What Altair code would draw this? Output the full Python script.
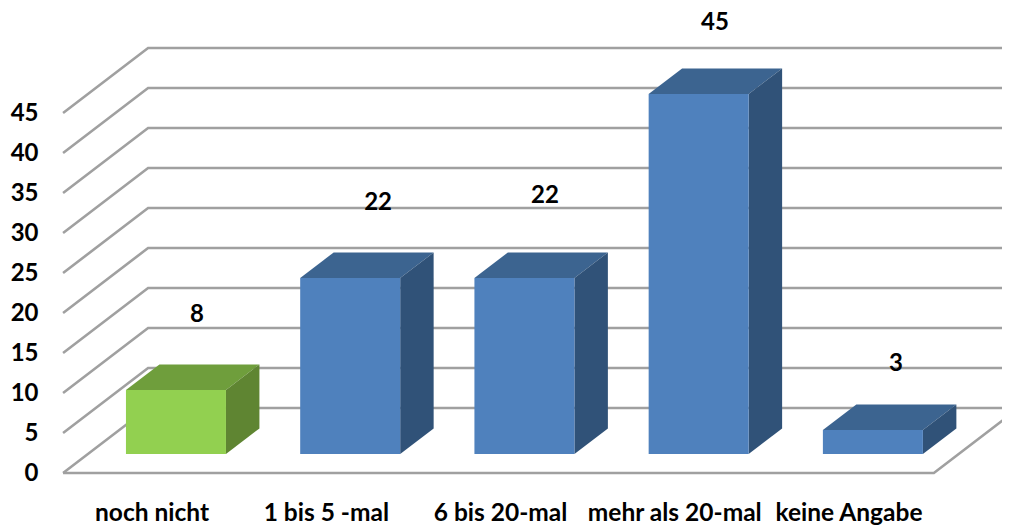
import altair as alt
import pandas as pd

categories = ["noch nicht", "1 bis 5 -mal", "6 bis 20-mal", "mehr als 20-mal", "keine Angabe"]
values = [8, 22, 22, 45, 3]
ticks = [0, 5, 10, 15, 20, 25, 30, 35, 40, 45]
front_colors = ["#92D050", "#4F81BD", "#4F81BD", "#4F81BD", "#4F81BD"]
top_colors = ["#6F9E3C", "#3C6490", "#3C6490", "#3C6490", "#3C6490"]
side_colors = ["#5F8532", "#305278", "#305278", "#305278", "#305278"]
label_dx = [0.261, 0.300, 0.258, 0.234, 0.273]
label_dy = [11.7, 11.8, 12.65, 11.2, 10.65]

# 3D layout, in scale units (x: category steps, y: value units)
X_MIN, X_MAX = -0.824, 4.881
Y_MIN, Y_MAX = -6.75, 58.125
WALL_X, FLOOR_END_X = -0.508, 4.49
DEPTH_X, DEPTH_Y = 0.488, 8.125
BAR_LEFT, BAR_W = -0.147, 0.574
BAR_BASE = 2.375
BAR_DX, BAR_DY = 0.192, 3.19

grid_rows = []
for t in ticks:
    for order, (x, y) in enumerate([(WALL_X, t), (WALL_X + DEPTH_X, t + DEPTH_Y), (X_MAX, t + DEPTH_Y)]):
        grid_rows.append({"g": f"t{t}", "o": order, "x": x, "y": y})
for order, (x, y) in enumerate([(WALL_X, 0), (FLOOR_END_X, 0), (FLOOR_END_X + DEPTH_X, DEPTH_Y)]):
    grid_rows.append({"g": "floor", "o": order, "x": x, "y": y})
grid = pd.DataFrame(grid_rows)

front_rows, top_rows, side_rows, label_rows = [], [], [], []
for i, (cat, v) in enumerate(zip(categories, values)):
    xl = i + BAR_LEFT
    xr = xl + BAR_W
    lo = BAR_BASE
    hi = BAR_BASE + v
    front_rows.append({"x": xl, "x2": xr, "y": lo, "y2": hi, "c": front_colors[i]})
    for x, y, y2 in [(xl, hi, hi), (xl + BAR_DX, hi + BAR_DY, hi), (xr, hi + BAR_DY, hi), (xr + BAR_DX, hi + BAR_DY, hi + BAR_DY)]:
        top_rows.append({"b": i, "x": x, "y": y, "y2": y2, "c": top_colors[i]})
    for x, y, y2 in [(xr, hi, lo), (xr + BAR_DX, hi + BAR_DY, lo + BAR_DY)]:
        side_rows.append({"b": i, "x": x, "y": y, "y2": y2, "c": side_colors[i]})
    label_rows.append({"x": i + label_dx[i], "y": v + label_dy[i], "t": str(v)})

FONT = "Lato"
FONT_SIZE = 24
x_scale = alt.Scale(domain=[X_MIN, X_MAX], nice=False, zero=False)
y_scale = alt.Scale(domain=[Y_MIN, Y_MAX], nice=False, zero=False)
name_expr = "[" + ",".join(f"'{c}'" for c in categories) + "][datum.value]"

x_axis = alt.Axis(values=list(range(len(categories))), labelExpr=name_expr, title=None, domain=False, ticks=False,
                  grid=False, labelOverlap=False, labelFlush=False, labelBound=False, orient="bottom", offset=-14,
                  labelPadding=0, labelFont=FONT, labelFontWeight="bold", labelFontSize=24.5, labelColor="#000000",
                  labelBaseline="middle", labelAlign="center")
y_axis = alt.Axis(values=ticks, title=None, domain=False, ticks=False, grid=False, labelOverlap=False,
                  labelFlush=False, labelBound=False, orient="left", offset=-30, labelPadding=0, labelFont=FONT,
                  labelFontWeight="bold", labelFontSize=FONT_SIZE, labelColor="#000000", labelBaseline="middle")

X = alt.X("x:Q", scale=x_scale, axis=x_axis)
Y = alt.Y("y:Q", scale=y_scale, axis=y_axis)
COL = alt.Color("c:N", scale=None, legend=None)

grid_layer = alt.Chart(grid).mark_line(color="#A0A0A0", strokeWidth=2.6, clip=True, interpolate="linear").encode(
    x=X, y=Y, detail="g:N", order="o:Q")
front = alt.Chart(pd.DataFrame(front_rows)).mark_rect(stroke=None).encode(
    x=X, x2="x2:Q", y=Y, y2="y2:Q", color=COL)
top = alt.Chart(pd.DataFrame(top_rows)).mark_area().encode(
    x=X, y=Y, y2="y2:Q", color=COL, detail="b:N")
side = alt.Chart(pd.DataFrame(side_rows)).mark_area().encode(
    x=X, y=Y, y2="y2:Q", color=COL, detail="b:N")
text = alt.Chart(pd.DataFrame(label_rows)).mark_text(
    font=FONT, fontWeight="bold", fontSize=FONT_SIZE, color="#000000", baseline="middle", align="center"
).encode(x=X, y=Y, text="t:N")

chart = alt.layer(grid_layer, top, side, front, text).properties(
    width=994, height=519, padding=0, autosize=alt.AutoSizeParams(type="none"), background="#FFFFFF"
).configure_view(stroke=None)

chart.save("out.html", embed_options={"renderer": "svg", "actions": False})
